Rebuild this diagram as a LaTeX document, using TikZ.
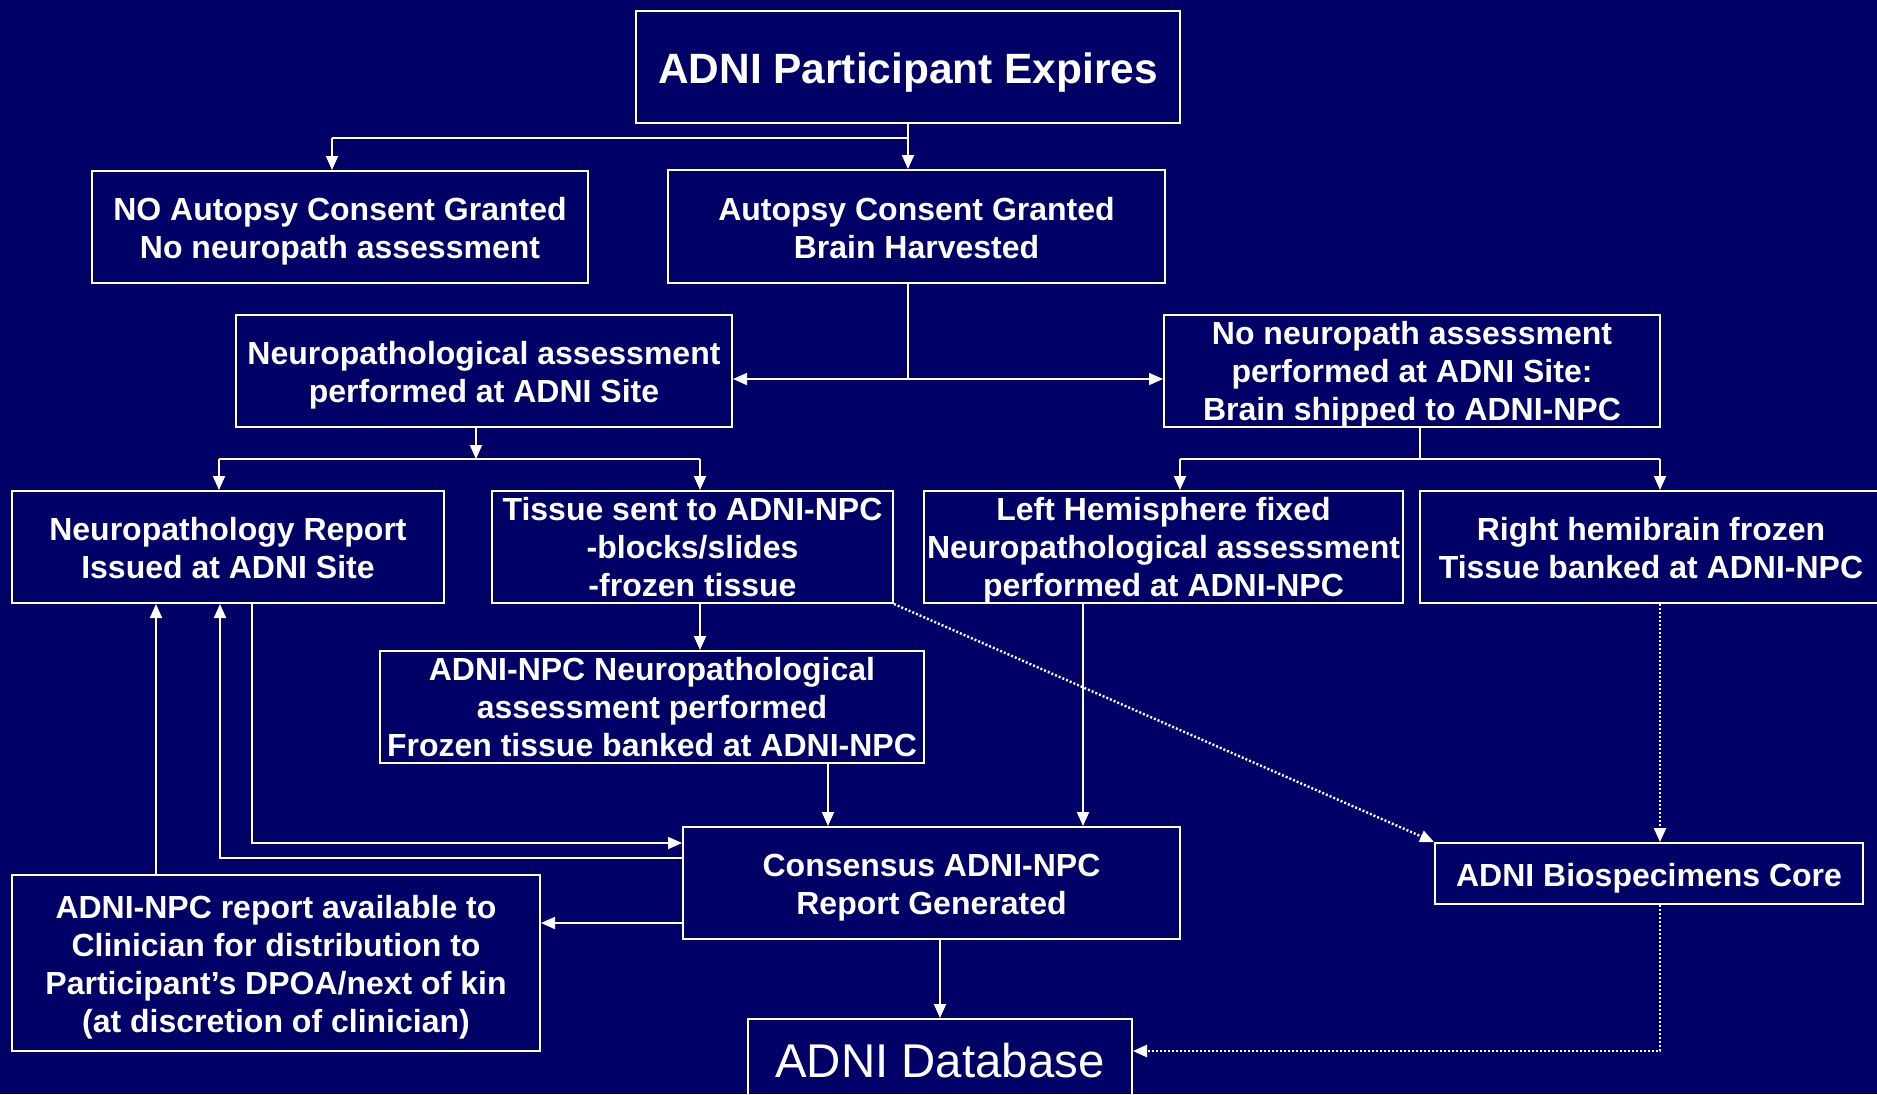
\documentclass[tikz,border=0pt]{standalone}
\usepackage{fontspec}
\setmainfont{Liberation Sans}
\usetikzlibrary{arrows.meta}
\definecolor{bgnavy}{RGB}{0,0,102}
\newcommand\topst{\rule{0pt}{16.5pt}}
\newcommand\botst{\rule[-4pt]{0pt}{4pt}}
\newcommand\topss{\rule{0pt}{14.5pt}}
\newcommand\botss{\rule[-3.4pt]{0pt}{3.4pt}}
\begin{document}
\begin{tikzpicture}[x=0.5pt,y=-0.5pt,
  box/.style={draw=white, line width=1pt, text=white, align=center, inner sep=0pt,
    font=\bfseries\fontsize{16}{19}\selectfont},
  conn/.style={draw=white, line width=0.9pt, -{Triangle[length=7pt,width=6pt]}},
  plainline/.style={draw=white, line width=0.9pt},
  dotconn/.style={draw=white, line width=1.2pt, dash pattern=on 1pt off 1pt, -{Triangle[length=7pt,width=6pt]}}]
\clip (0,0) rectangle (1877,1094);
\useasboundingbox (0,0) rectangle (1877,1094);
\fill[bgnavy] (0,0) rectangle (1877,1094);

% boxes
\node[box, minimum width=272pt, minimum height=56pt, font=\bfseries\fontsize{21.2}{25}\selectfont] (top) at (908,67) {\rule[-6pt]{0pt}{28pt}ADNI Participant Expires};
\node[box, minimum width=248pt, minimum height=56pt] (noconsent) at (340,227) {\topst NO Autopsy Consent Granted\\No neuropath assessment\botst};
\node[box, minimum width=248.5pt, minimum height=56.5pt] (consent) at (916.5,226.5) {\topst Autopsy Consent Granted\\Brain Harvested\botst};
\node[box, minimum width=248pt, minimum height=56pt] (siteassess) at (484,371) {\topst Neuropathological assessment\\performed at ADNI Site\botst};
\node[box, minimum width=248pt, minimum height=56pt] (noassess) at (1412,371) {\topss No neuropath assessment\\performed at ADNI Site:\\Brain shipped to ADNI-NPC\botss};
\node[box, minimum width=216pt, minimum height=56pt] (report) at (228,547) {\topst Neuropathology Report\\Issued at ADNI Site\botst};
\node[box, minimum width=200.5pt, minimum height=56pt] (tissue) at (692.5,547) {\topss Tissue sent to ADNI-NPC\\-blocks/slides\\-frozen tissue\botss};
\node[box, minimum width=239.5pt, minimum height=56pt] (lefthemi) at (1163.5,547) {\topss Left Hemisphere fixed\\Neuropathological assessment\\performed at ADNI-NPC\botss};
\node[box, minimum width=231pt, minimum height=56pt] (righthemi) at (1651,547) {\topst Right hemibrain frozen\\Tissue banked at ADNI-NPC\botst};
\node[box, minimum width=272pt, minimum height=56pt] (npcassess) at (652,707) {\topss ADNI-NPC Neuropathological\\assessment performed\\Frozen tissue banked at ADNI-NPC\botss};
\node[box, minimum width=248.5pt, minimum height=56pt] (consensus) at (931.5,883) {\topst Consensus ADNI-NPC\\Report Generated\botst};
\node[box, minimum width=214pt, minimum height=30.5pt] (bio) at (1649,873.5) {\topst ADNI Biospecimens Core\botst};
\node[box, minimum width=264pt, minimum height=88pt] (avail) at (276,963) {\topst ADNI-NPC report available to\\Clinician for distribution to\\Participant’s DPOA/next of kin\\(at discretion of clinician)\botst};
\node[box, minimum width=192pt, minimum height=41pt, font=\fontsize{23.7}{28}\selectfont] (db) at (940,1060) {\rule[-7pt]{0pt}{31pt}ADNI Database};

% helper coordinates
\coordinate (b1) at (908,138);
\coordinate (b1l) at (332,138);
\coordinate (b2) at (908,379);
\coordinate (b3) at (476,459);
\coordinate (b3l) at (219,459);
\coordinate (b3r) at (700,459);
\coordinate (b4) at (1420,459);
\coordinate (b4l) at (1180,459);
\coordinate (b4r) at (1660,459);
\coordinate (c1) at (828,0);
\coordinate (c2) at (1083,0);
\coordinate (r1) at (252,843);
\coordinate (r2) at (220,858);
\coordinate (r3) at (156,923);
\coordinate (d1) at (1660,1051);

% connectors
\draw[conn] (top.south) -- (top.south |- consent.north);
\draw[plainline] (b1) -- (b1l);
\draw[conn] (b1l) -- (b1l |- noconsent.north);

\draw[plainline] (consent.south -| b2) -- (b2);
\draw[conn] (b2) -- (siteassess.east |- b2);
\draw[conn] (b2) -- (noassess.west |- b2);

\draw[conn] (siteassess.south -| b3) -- (b3);
\draw[plainline] (b3l) -- (b3r);
\draw[conn] (b3l) -- (b3l |- report.north);
\draw[conn] (b3r) -- (b3r |- tissue.north);

\draw[plainline] (noassess.south -| b4) -- (b4);
\draw[plainline] (b4l) -- (b4r);
\draw[conn] (b4l) -- (b4l |- lefthemi.north);
\draw[conn] (b4r) -- (b4r |- righthemi.north);

\draw[conn] (tissue.south -| b3r) -- (npcassess.north -| b3r);
\draw[conn] (npcassess.south -| c1) -- (consensus.north -| c1);
\draw[conn] (lefthemi.south -| c2) -- (consensus.north -| c2);

\draw[dotconn] (tissue.south east) -- (bio.north west);
\draw[dotconn] (righthemi.south -| b4r) -- (bio.north -| b4r);

\draw[conn] (report.south -| r1) -- (r1) -- (consensus.west |- r1);
\draw[conn] (consensus.west |- r2) -- (r2) -- (report.south -| r2);
\draw[conn] (avail.north -| r3) -- (report.south -| r3);
\draw[conn] (consensus.west |- r3) -- (avail.east |- r3);
\draw[conn] (consensus.south -| db.north) -- (db.north);
\draw[dotconn] (bio.south -| d1) -- (d1) -- (db.east |- d1);
\end{tikzpicture}
\end{document}
